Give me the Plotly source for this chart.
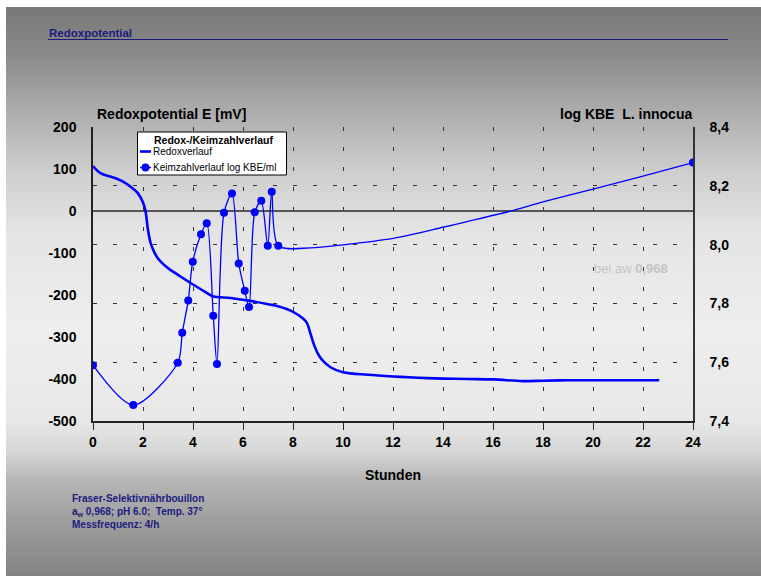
import plotly.graph_objects as go

# ---------------- data ----------------
redox_hours = [0.0, 0.3, 0.8, 1.2, 1.5, 1.8, 2.0, 2.1, 2.2, 2.3, 2.45, 2.6, 2.8, 3.0,
               3.5, 4.0, 4.5, 4.8, 5.5, 6.2, 7.0, 7.4, 8.0, 8.4, 8.55, 8.7, 8.85, 9.0,
               9.2, 9.5, 10.0, 11.0, 12.0, 13.0, 14.0, 15.0, 16.0, 17.2, 18.0, 19.0,
               20.0, 21.0, 22.0, 22.65]
redox_mv = [107, 90, 80, 70, 58, 42, 20, 0, -45, -75, -98, -113, -126, -136,
            -156, -175, -193, -203, -207, -213, -222, -227, -240, -256, -266, -292, -320, -340,
            -357, -372, -384, -390, -394, -397, -399, -400, -401, -405, -404, -403,
            -403, -403, -403, -403]

# measured germ counts (log KBE/ml)
keim_hours = [0.0, 1.61, 3.39, 3.57, 3.81, 3.99, 4.32, 4.55, 4.81, 4.96, 5.24, 5.56,
              5.83, 6.07, 6.24, 6.47, 6.73, 6.99, 7.15, 7.41, 24.0]
keim_log = [7.59, 7.454, 7.598, 7.70, 7.81, 7.942, 8.035, 8.073, 7.758, 7.594, 8.108,
            8.174, 7.936, 7.843, 7.788, 8.11, 8.149, 7.996, 8.18, 7.996, 8.279]

# readings of the smoothed curve between the last two measurements
curve_hours = [8.7, 10.0, 12.0, 14.0, 15.0, 16.7, 18.0, 20.0, 22.0]
curve_log = [7.989, 7.999, 8.021, 8.059, 8.079, 8.114, 8.145, 8.189, 8.233]

x_ticks = [0, 2, 4, 6, 8, 10, 12, 14, 16, 18, 20, 22, 24]
y_ticks = [-500, -400, -300, -200, -100, 0, 100, 200]
y_tick_labels = ["-500", "-400", "-300", "-200", "-100", "0", "100", "200"]
y2_ticks = [7.4, 7.6, 7.8, 8.0, 8.2, 8.4]
y2_tick_labels = ["7,4", "7,6", "7,8", "8,0", "8,2", "8,4"]

legend_title = "Redox-/Keimzahlverlauf"
legend_names = ["Redoxverlauf", "Keimzahlverlauf log KBE/ml"]

# ---------------- figure ----------------
W, H = 761, 576
L, R, T, B = 93, 693, 127, 421
FONT = "Arial, Liberation Sans, sans-serif"
BLUE = "#0000ff"
NAVY = "#1c1c80"


def px2x(px):
    return (px - L) / (R - L)


def py2y(py):
    return (B - py) / (B - T)


# merge measured points with curve readings
pts = [(h, v, 8) for h, v in zip(keim_hours, keim_log)] + \
      [(h, v, 0) for h, v in zip(curve_hours, curve_log)]
pts.sort(key=lambda p: p[0])
kx = [p[0] for p in pts]
ky = [p[1] for p in pts]
ks = [p[2] for p in pts]

fig = go.Figure()
fig.add_trace(go.Scatter(
    x=redox_hours, y=redox_mv, mode="lines", name=legend_names[0],
    line=dict(color=BLUE, width=2.6, shape="spline", smoothing=1.0),
    yaxis="y", showlegend=False))
fig.add_trace(go.Scatter(
    x=kx, y=ky, mode="lines+markers", name=legend_names[1],
    line=dict(color=BLUE, width=1.3, shape="spline", smoothing=0.8),
    marker=dict(color=BLUE, size=ks, opacity=1, line=dict(width=0)),
    yaxis="y2", showlegend=False))

# gradient background of the slide
stops = [(7, 120), (60, 140), (110, 172), (170, 205), (230, 228), (330, 238),
         (420, 232), (450, 215), (480, 182), (520, 158), (576, 130)]


def gray_at(py):
    for (a, ca), (b, cb) in zip(stops[:-1], stops[1:]):
        if a <= py <= b:
            t = (py - a) / (b - a)
            return round(ca + (cb - ca) * t)
    return stops[-1][1]


shapes = []
step = 4
py = 7
while py < H:
    g = gray_at(py + step / 2)
    shapes.append(dict(type="rect", xref="paper", yref="paper",
                       x0=px2x(6), x1=px2x(W + 2), y0=py2y(py), y1=py2y(min(py + step + 0.6, H + 2)),
                       fillcolor=f"rgb({g},{g},{g})", line=dict(width=0), layer="below"))
    py += step

# title underline
shapes.append(dict(type="line", xref="paper", yref="paper",
                   x0=px2x(48), x1=px2x(728), y0=py2y(39.5), y1=py2y(39.5),
                   line=dict(color=NAVY, width=1.2)))

# legend box (drawn by hand to match the compact original)
shapes.append(dict(type="rect", xref="paper", yref="paper",
                   x0=px2x(137.5), x1=px2x(286.5), y0=py2y(132), y1=py2y(175),
                   fillcolor="white", line=dict(color="black", width=1), layer="above"))
shapes.append(dict(type="line", xref="paper", yref="paper",
                   x0=px2x(140), x1=px2x(151), y0=py2y(151.5), y1=py2y(151.5),
                   line=dict(color=BLUE, width=2.6), layer="above"))
shapes.append(dict(type="line", xref="paper", yref="paper",
                   x0=px2x(140), x1=px2x(151), y0=py2y(167.5), y1=py2y(167.5),
                   line=dict(color=BLUE, width=1.3), layer="above"))
shapes.append(dict(type="circle", xref="paper", yref="paper",
                   x0=px2x(141.5), x1=px2x(149.5), y0=py2y(163.5), y1=py2y(171.5),
                   fillcolor=BLUE, line=dict(width=0), layer="above"))

annotations = [
    dict(text="<b>Redoxpotential</b>", xref="paper", yref="paper",
         x=px2x(47), y=py2y(33), xanchor="left", yanchor="middle", showarrow=False,
         font=dict(family=FONT, size=11.5, color=NAVY)),
    dict(text="<b>Redoxpotential E [mV]</b>", xref="paper", yref="paper",
         x=px2x(95), y=py2y(114), xanchor="left", yanchor="middle", showarrow=False,
         font=dict(family=FONT, size=14, color="black")),
    dict(text="<b>log KBE  L. innocua</b>", xref="paper", yref="paper",
         x=px2x(694), y=py2y(114), xanchor="right", yanchor="middle", showarrow=False,
         font=dict(family=FONT, size=14, color="black")),
    dict(text="bei aw <b>0,968</b>", xref="paper", yref="paper",
         x=px2x(592), y=py2y(268), xanchor="left", yanchor="middle", showarrow=False,
         font=dict(family=FONT, size=13, color="#c4c4c4")),
    dict(text="<b>Fraser-Selektivnährbouillon<br>a<sub>w</sub> 0,968; pH 6.0;  Temp. 37°"
              "<br>Messfrequenz: 4/h</b>", xref="paper", yref="paper",
         x=px2x(70), y=py2y(491), xanchor="left", yanchor="top", showarrow=False,
         align="left", font=dict(family=FONT, size=10, color=NAVY)),
    dict(text="<b>" + legend_title + "</b>", xref="paper", yref="paper",
         x=px2x(152), y=py2y(139.5), xanchor="left", yanchor="middle", showarrow=False,
         font=dict(family=FONT, size=10.5, color="black")),
    dict(text=legend_names[0], xref="paper", yref="paper",
         x=px2x(151), y=py2y(151.5), xanchor="left", yanchor="middle", showarrow=False,
         font=dict(family=FONT, size=10, color="black")),
    dict(text=legend_names[1], xref="paper", yref="paper",
         x=px2x(151), y=py2y(167.5), xanchor="left", yanchor="middle", showarrow=False,
         font=dict(family=FONT, size=10, color="black")),
]

grid_dash = "4px,16px"

fig.update_layout(
    width=W, height=H, autosize=False,
    margin=dict(l=L, r=W - R, t=T, b=H - B, pad=0),
    paper_bgcolor="white", plot_bgcolor="white",
    font=dict(family=FONT, color="black"),
    showlegend=False,
    xaxis=dict(
        range=[0, 24], tickvals=x_ticks, ticktext=[str(v) for v in x_ticks],
        showline=True, linecolor="#222", linewidth=1.5,
        ticks="outside", ticklen=7, tickcolor="#222", tickwidth=1.2,
        showgrid=True, gridcolor="#333", gridwidth=1, griddash=grid_dash,
        zeroline=False,
        tickfont=dict(family=FONT, size=14, color="black", weight="bold"),
        title=dict(text="<b>Stunden</b>", standoff=22,
                   font=dict(family=FONT, size=14, color="black"))),
    yaxis=dict(
        range=[-500, 200], tickvals=y_ticks, ticktext=y_tick_labels,
        showline=True, linecolor="#222", linewidth=1.5,
        ticks="", ticklabelstandoff=12, showgrid=False,
        zeroline=True, zerolinecolor="#555", zerolinewidth=1.5,
        tickfont=dict(family=FONT, size=14, color="black", weight="bold")),
    yaxis2=dict(
        range=[7.4, 8.4], tickvals=y2_ticks, ticktext=y2_tick_labels,
        overlaying="y", side="right",
        showline=True, linecolor="#333", linewidth=1.5,
        ticks="", ticklabelstandoff=12,
        showgrid=True, gridcolor="#333", gridwidth=1, griddash=grid_dash,
        zeroline=False,
        tickfont=dict(family=FONT, size=14, color="black", weight="bold")),
    shapes=shapes,
    annotations=annotations,
)

fig.write_html("out.html", config={"displayModeBar": False},
               post_script="document.body.style.margin='0px';")
